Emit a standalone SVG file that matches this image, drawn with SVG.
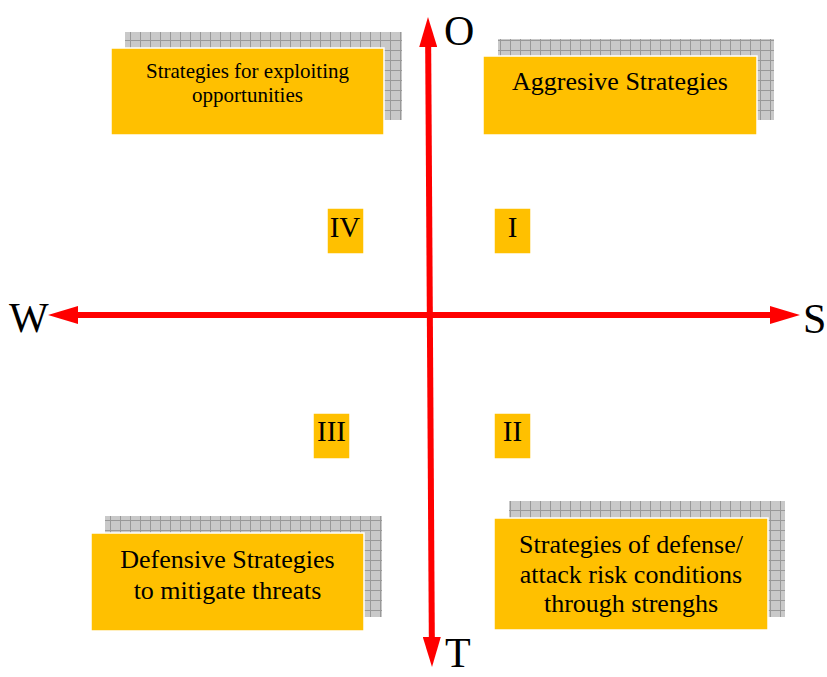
<svg xmlns="http://www.w3.org/2000/svg" width="827" height="677" viewBox="0 0 827 677">
  <style>
    .box { fill: #FFC000; stroke: #ffffff; stroke-width: 1.5; }
    .shadow { fill: url(#grid); }
    .txt { font-family: "Liberation Serif", "Times New Roman", serif; fill: #000; text-anchor: middle; }
    .axislabel { font-family: "Liberation Serif", "Times New Roman", serif; fill: #000; font-size: 42px; }
    .axis { stroke: #FF0000; stroke-width: 6; fill: none; marker-start: url(#head); marker-end: url(#head); }
  </style>
  <defs>
    <pattern id="grid" width="10" height="10" patternUnits="userSpaceOnUse">
      <rect width="10" height="10" fill="#c9c9c9"/>
      <path d="M0,0.5 H10 M0.5,0 V10" stroke="#999999" stroke-width="1"/>
    </pattern>
    <marker id="head" viewBox="0 0 30 18" markerWidth="30" markerHeight="18" markerUnits="userSpaceOnUse" refX="5" refY="9" orient="auto-start-reverse">
      <path d="M0,0 L30,9 L0,18 Z" fill="#FF0000"/>
    </marker>
  </defs>

  <g id="connectors">
    <line class="axis" x1="73" y1="315" x2="775" y2="315"/>
    <line class="axis" x1="428.15" y1="42" x2="431.85" y2="642"/>
  </g>

  <g id="label-O"><text class="axislabel" x="444" y="45">O</text></g>
  <g id="label-W"><text class="axislabel" x="9" y="332">W</text></g>
  <g id="label-S"><text class="axislabel" x="803" y="333">S</text></g>
  <g id="label-T"><text class="axislabel" x="445" y="667" font-size="38">T</text></g>

  <g id="box-opportunities">
    <rect class="shadow" x="125" y="32" width="277" height="88"/>
    <rect class="box" x="111" y="48" width="273" height="87"/>
    <text class="txt" font-size="21" x="247.5" y="78">Strategies for exploiting</text>
    <text class="txt" font-size="21" x="247.5" y="102">opportunities</text>
  </g>

  <g id="box-aggressive">
    <rect class="shadow" x="498" y="39" width="276" height="81"/>
    <rect class="box" x="483" y="56" width="274" height="79"/>
    <text class="txt" font-size="26" x="620" y="90">Aggresive Strategies</text>
  </g>

  <g id="box-defensive">
    <rect class="shadow" x="105" y="516" width="277" height="101"/>
    <rect class="box" x="91" y="533" width="273" height="98"/>
    <text class="txt" font-size="26" x="227.5" y="568">Defensive Strategies</text>
    <text class="txt" font-size="26" x="227.5" y="599">to mitigate threats</text>
  </g>

  <g id="box-defense-attack">
    <rect class="shadow" x="509" y="501" width="276" height="116"/>
    <rect class="box" x="494" y="518" width="274" height="112"/>
    <text class="txt" font-size="26" x="631" y="553">Strategies of defense/</text>
    <text class="txt" font-size="26" x="631" y="583">attack risk conditions</text>
    <text class="txt" font-size="26" x="631" y="612">through strenghs</text>
  </g>

  <g id="quadrant-IV">
    <rect class="box" x="327" y="208" width="37" height="46" stroke="none"/>
    <text class="txt" font-size="29" x="345" y="237">IV</text>
  </g>
  <g id="quadrant-I">
    <rect class="box" x="494" y="208" width="37" height="46" stroke="none"/>
    <text class="txt" font-size="29" x="512.5" y="237">I</text>
  </g>
  <g id="quadrant-III">
    <rect class="box" x="313" y="413" width="37" height="46" stroke="none"/>
    <text class="txt" font-size="29" x="331.5" y="441">III</text>
  </g>
  <g id="quadrant-II">
    <rect class="box" x="494" y="413" width="37" height="46" stroke="none"/>
    <text class="txt" font-size="29" x="512.5" y="441">II</text>
  </g>
</svg>
